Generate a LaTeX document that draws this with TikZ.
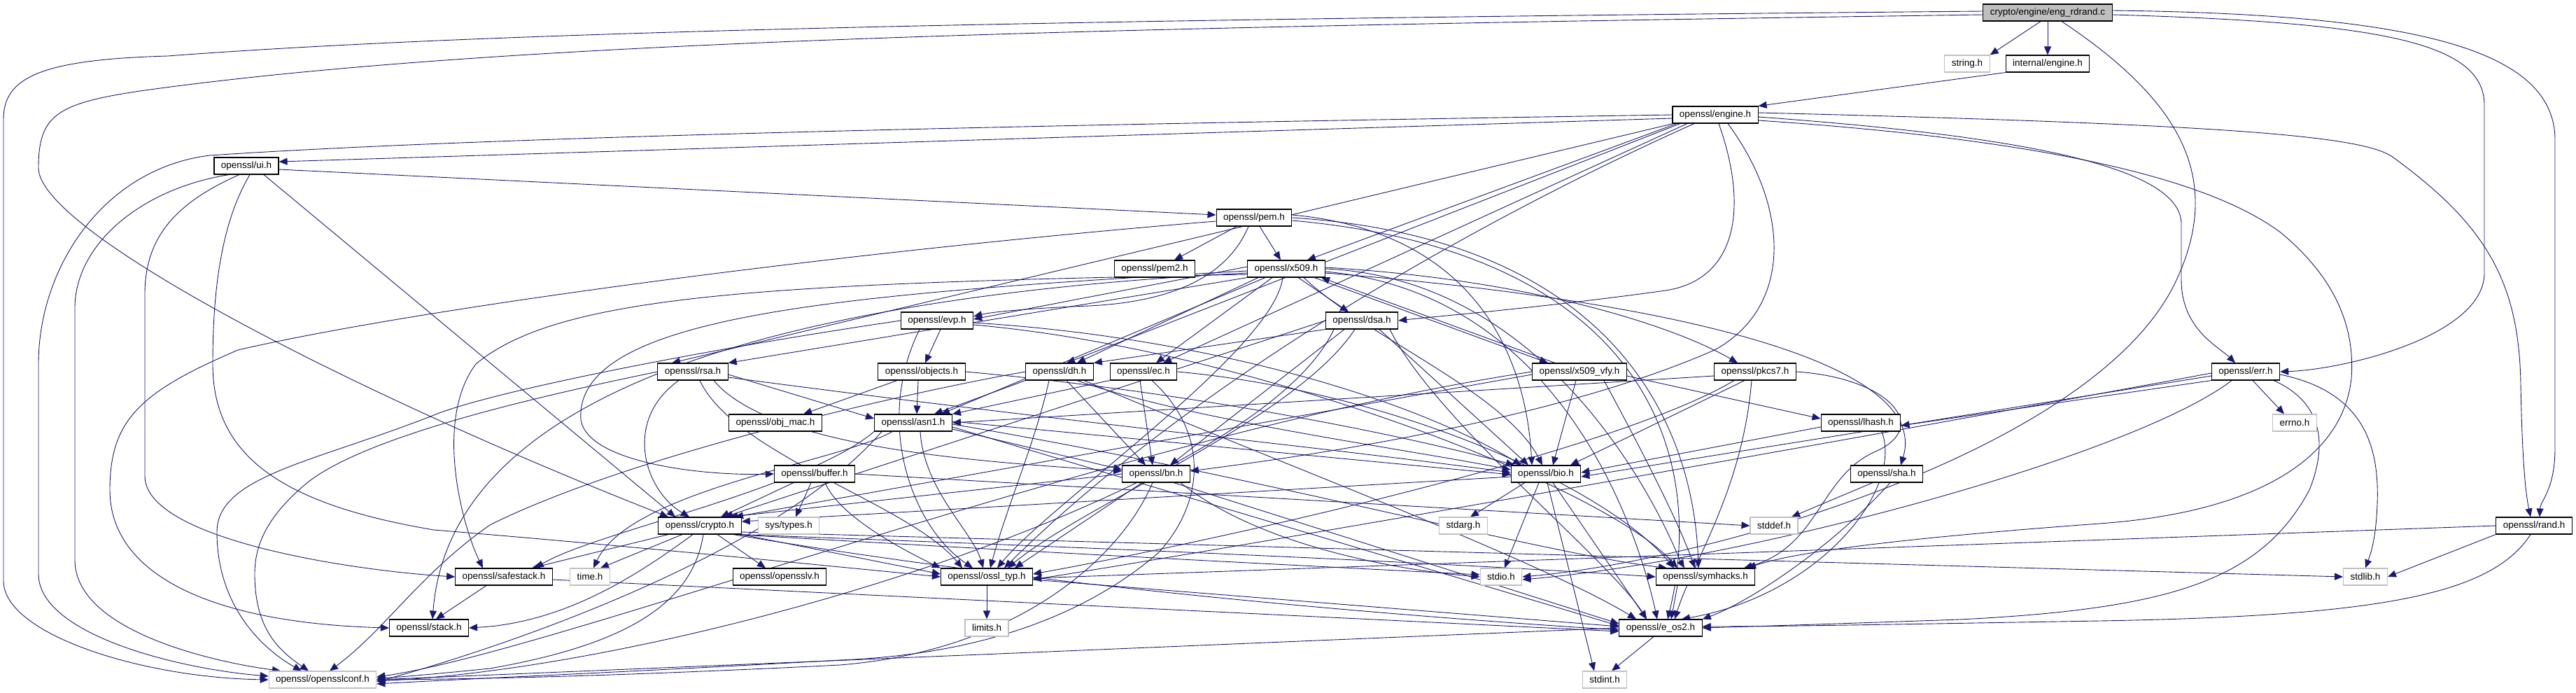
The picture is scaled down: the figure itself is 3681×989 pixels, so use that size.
\documentclass[tikz,border=0pt]{standalone}
\usepackage{fontspec}
\setmainfont{Liberation Sans}
\usetikzlibrary{arrows.meta}
\definecolor{edgec}{HTML}{191970}
\definecolor{extc}{HTML}{BFBFBF}
\pgfdeclarelayer{bg}
\pgfsetlayers{bg,main}
\tikzset{
 box/.style={draw=black, fill=white, line width=1.1pt, minimum height=24pt, inner xsep=10pt, inner ysep=0pt, font=\fontsize{13.5}{16}\selectfont},
 ext/.style={box, draw=extc},
 rootbox/.style={box, fill=extc},
 e/.style={draw=edgec, line width=0.9pt, -{Triangle[length=12pt,width=10pt]}}
}
\begin{document}
\begin{tikzpicture}[x=1pt,y=-1pt]
\useasboundingbox (0,0) rectangle (3681,989);
\node[rootbox] (root) at (2926,18) {crypto/engine/eng\_rdrand.c};
\node[ext] (string) at (2811,91) {string.h};
\node[box] (internal) at (2926,91) {internal/engine.h};
\node[box] (engine) at (2451,164) {openssl/engine.h};
\node[box] (ui) at (352,237) {openssl/ui.h};
\node[box] (pem) at (1792,311) {openssl/pem.h};
\node[box] (pem2) at (1650,384) {openssl/pem2.h};
\node[box] (x509) at (1838,384) {openssl/x509.h};
\node[box] (evp) at (1339,458) {openssl/evp.h};
\node[box] (dsa) at (1946,458) {openssl/dsa.h};
\node[box] (rsa) at (990,531) {openssl/rsa.h};
\node[box] (objects) at (1317,531) {openssl/objects.h};
\node[box] (dh) at (1514,531) {openssl/dh.h};
\node[box] (ec) at (1634,531) {openssl/ec.h};
\node[box] (x509vfy) at (2257,531) {openssl/x509\_vfy.h};
\node[box] (pkcs7) at (2508,531) {openssl/pkcs7.h};
\node[box] (err) at (3209,531) {openssl/err.h};
\node[box] (objmac) at (1108,604) {openssl/obj\_mac.h};
\node[box] (asn1) at (1305,604) {openssl/asn1.h};
\node[box] (lhash) at (2659,604) {openssl/lhash.h};
\node[ext] (errno) at (3279,604) {errno.h};
\node[box] (buffer) at (1164,677) {openssl/buffer.h};
\node[box] (bn) at (1652,677) {openssl/bn.h};
\node[box] (bio) at (2209,677) {openssl/bio.h};
\node[box] (sha) at (2696,677) {openssl/sha.h};
\node[box] (crypto) at (1000,751) {openssl/crypto.h};
\node[ext] (systypes) at (1127,751) {sys/types.h};
\node[ext] (stdarg) at (2091,751) {stdarg.h};
\node[ext] (stddef) at (2535,751) {stddef.h};
\node[box] (rand) at (3621,751) {openssl/rand.h};
\node[box] (safestack) at (720,824) {openssl/safestack.h};
\node[ext] (time) at (843,824) {time.h};
\node[box] (opensslv) at (1114,824) {openssl/opensslv.h};
\node[box] (ossltyp) at (1410,824) {openssl/ossl\_typ.h};
\node[ext] (stdio) at (2145,824) {stdio.h};
\node[box] (symhacks) at (2437,824) {openssl/symhacks.h};
\node[ext] (stdlib) at (3380,824) {stdlib.h};
\node[box] (stack) at (613,897) {openssl/stack.h};
\node[ext] (limits) at (1410,897) {limits.h};
\node[box] (eos2) at (2373,897) {openssl/e\_os2.h};
\node[ext] (opensslconf) at (461,971) {openssl/opensslconf.h};
\node[ext] (stdint) at (2293,971) {stdint.h};

\begin{pgfonlayer}{bg}
% root
\draw[e] ([xshift=-10]root.south) -- (string.north east);
\draw[e] (root) -- (internal);
\draw[e] ([yshift=2]root.west) .. controls (1500,28) and (700,45) .. (240,80) .. controls (60,85) and (5,110) .. (5,170) -- (5,830) .. controls (5,905) and (200,968) .. (opensslconf.west);
\draw[e] ([yshift=-3]root.west) .. controls (1500,40) and (700,60) .. (200,130) .. controls (80,148) and (55,165) .. (55,240) .. controls (55,330) and (500,560) .. ([xshift=-45]crypto.north);
\draw[e] ([yshift=-3]root.east) .. controls (3400,32) and (3550,60) .. (3550,150) -- (3550,390) .. controls (3550,480) and (3350,528) .. (err.east);
\draw[e] ([yshift=3]root.east) .. controls (3450,20) and (3651,70) .. (3651,200) -- (3651,640) .. controls (3651,700) and (3630,715) .. ([xshift=8]rand.north);
\draw[e] ([xshift=20]root.south) .. controls (3110,140) and (3180,250) .. (3110,400) .. controls (3000,640) and (2450,800) .. (stdio.east);
\draw[e] (internal.south west) -- (engine.north east);
% engine
\draw[e] (engine.west) .. controls (1500,178) and (700,195) .. (300,222) .. controls (150,240) and (55,380) .. (55,520) -- (55,820) .. controls (55,905) and (250,955) .. ([yshift=5]opensslconf.west);
\draw[e] ([yshift=-5]engine.west) -- ([yshift=6]ui.east);
\draw[e] ([xshift=-55]engine.south) -- ([xshift=30]x509.north);
\draw[e] ([xshift=-40]engine.south) -- ([xshift=28]ec.north);
\draw[e] ([xshift=5]engine.south) .. controls (2500,300) and (2480,400) .. (2380,415) .. controls (2200,440) and (2050,452) .. (dsa.east);
\draw[e] ([xshift=18]engine.south) .. controls (2560,300) and (2560,440) .. (2450,500) .. controls (2200,610) and (1800,660) .. ([yshift=4]bn.east);
\draw[e] ([xshift=-60]engine.south) -- ([xshift=-30]rsa.north);
\draw[e] ([xshift=-50]engine.south) -- ([xshift=10]dh.north);
\draw[e] ([xshift=-30]engine.south) .. controls (2100,320) and (1700,550) .. ([xshift=25]ossltyp.north);
\draw[e] ([yshift=-8]engine.east) .. controls (2900,198) and (3150,250) .. (3260,333) .. controls (3340,400) and (3365,470) .. (3360,540) .. controls (3350,640) and (3250,730) .. (3000,748) .. controls (2700,770) and (2560,790) .. ([xshift=60]symhacks.north);
\draw[e] ([yshift=3]engine.east) .. controls (3200,178) and (3380,195) .. (3420,225) .. controls (3550,320) and (3600,400) .. (3602,550) .. controls (3604,650) and (3608,700) .. ([xshift=-5]rand.north);
\draw[e] ([yshift=-3]engine.east) .. controls (2900,195) and (3117,240) .. (3117,320) -- (3117,400) .. controls (3117,470) and (3170,495) .. ([xshift=-15]err.north);
% ui
\draw[e] ([yshift=-5]ui.east) -- ([yshift=4]pem.west);
\draw[e] ([xshift=25]ui.south) -- ([xshift=-35]crypto.north);
\draw[e] ([xshift=-25]ui.south) .. controls (200,270) and (107,350) .. (107,440) -- (107,800) .. controls (107,900) and (300,945) .. ([xshift=-60]opensslconf.north);
\draw[e] ([xshift=-10]ui.south) .. controls (250,290) and (207,340) .. (207,420) -- (207,680) .. controls (207,770) and (500,815) .. (safestack.west);
\draw[e] ([xshift=5]ui.south) .. controls (315,320) and (304,420) .. (304,520) .. controls (304,650) and (400,720) .. (620,757) .. controls (900,780) and (1200,810) .. (ossltyp.west);
% pem
\draw[e] ([xshift=-25]pem.south) -- ([xshift=28]pem2.north);
\draw[e] ([xshift=8]pem.south) -- ([xshift=-8]x509.north);
\draw[e] ([xshift=-8]pem.south) .. controls (1760,380) and (1700,430) .. (1556,437) .. controls (1480,440) and (1420,445) .. ([yshift=6]evp.east);
\draw[e] ([yshift=-5]pem.west) .. controls (1200,360) and (600,440) .. (340,500) .. controls (200,560) and (157,600) .. (157,700) .. controls (157,820) and (300,890) .. (stack.west);
\draw[e] ([yshift=4]pem.east) .. controls (2100,330) and (2180,500) .. ([xshift=-20]bio.north);
\draw[e] (pem.east) .. controls (2300,340) and (2420,600) .. ([xshift=-10]symhacks.north);
\draw[e] ([yshift=-4]pem.east) .. controls (2350,360) and (2440,650) .. ([xshift=10]eos2.north);
% x509
\draw[e] ([xshift=-5]x509.south) .. controls (1820,500) and (1500,720) .. ([xshift=15]ossltyp.north);
\draw[e] (x509.east) .. controls (2250,400) and (2400,800) .. ([xshift=-30]symhacks.north);
\draw[e] ([yshift=-4]x509.east) .. controls (2250,420) and (2350,800) .. ([xshift=-5]eos2.north);
\draw[e] ([yshift=-3]x509.west) .. controls (1200,420) and (820,450) .. (830,600) .. controls (840,660) and (1000,680) .. (buffer.west);
\draw[e] ([yshift=3]x509.west) -- ([yshift=2]evp.east);
\draw[e] ([xshift=25]x509.south) .. controls (1950,480) and (2150,560) .. ([xshift=-5]bio.north);
\draw[e] ([yshift=-6]x509.west) .. controls (1000,430) and (640,600) .. ([xshift=5]stack.north);
\draw[e] ([xshift=-30]x509.south) -- ([xshift=40]asn1.north);
\draw[e] ([yshift=-8]x509.west) .. controls (1100,405) and (800,420) .. (680,520) .. controls (620,600) and (660,750) .. ([xshift=-30]safestack.north);
\draw[e] ([xshift=-20]x509.south) -- ([xshift=18]ec.north);
\draw[e] (x509.south west) -- (rsa.north east);
\draw[e] ([xshift=17]x509.south) -- ([xshift=-19]dsa.north);
\draw[e] ([xshift=-40]x509.south) -- ([xshift=25]dh.north);
\draw[e] ([yshift=-6]x509.east) .. controls (2400,430) and (2760,520) .. ([xshift=20]sha.north);
\draw[e] ([xshift=40]x509.south) -- ([xshift=-45]x509vfy.north);
\draw[e] ([xshift=-35]x509vfy.north) -- ([xshift=50]x509.south);
\draw[e] ([yshift=2]x509.east) .. controls (2200,400) and (2400,470) .. ([xshift=-25]pkcs7.north);
% x509_vfy
\draw[e] (x509vfy.west) .. controls (1600,620) and (800,930) .. ([yshift=4]opensslconf.east);
\draw[e] ([yshift=-6]x509vfy.east) -- ([yshift=6]lhash.west);
\draw[e] ([xshift=-5]x509vfy.south) -- ([xshift=10]bio.north);
\draw[e] ([yshift=-4]x509vfy.west) -- ([xshift=50]crypto.north);
\draw[e] ([xshift=35]x509vfy.south) .. controls (2350,650) and (2400,750) .. ([xshift=-15]symhacks.north);
% pkcs7
\draw[e] ([yshift=-6]pkcs7.west) -- (asn1.east);
\draw[e] ([xshift=-15]pkcs7.south) -- ([xshift=35]bio.north);
\draw[e] ([xshift=-5]pkcs7.south) .. controls (2490,700) and (2420,800) .. ([xshift=20]eos2.north);
\draw[e] (pkcs7.east) .. controls (2700,540) and (2760,610) .. (2680,645) .. controls (2600,680) and (2600,780) .. ([xshift=55]symhacks.north);
\draw[e] ([xshift=-30]pkcs7.south) .. controls (2300,650) and (1700,780) .. ([yshift=4]ossltyp.east);
% evp
\draw[e] (evp.west) .. controls (1000,500) and (700,560) .. (620,593) .. controls (450,660) and (310,680) .. (310,760) .. controls (310,870) and (380,930) .. ([xshift=-30]opensslconf.north);
\draw[e] ([xshift=5]evp.south) -- ([xshift=5]objects.north);
\draw[e] ([xshift=-25]evp.south) .. controls (1250,600) and (1300,750) .. ([xshift=-20]ossltyp.north);
\draw[e] ([yshift=-3]evp.east) .. controls (1700,480) and (2000,560) .. ([xshift=-35]bio.north);
\draw[e] ([yshift=-6]evp.east) .. controls (1800,500) and (2300,700) .. ([xshift=-40]symhacks.north);
% dsa
\draw[e] (dsa.south west) -- (dh.north east);
\draw[e] ([xshift=-25]dsa.south) -- ([xshift=20]bn.north);
\draw[e] ([xshift=25]dsa.south) -- ([xshift=-25]bio.north);
\draw[e] (dsa.west) -- ([xshift=35]crypto.north);
\draw[e] ([xshift=-10]dsa.south) .. controls (1850,600) and (1550,720) .. ([xshift=30]ossltyp.north);
\draw[e] ([xshift=40]dsa.south) .. controls (2050,600) and (2300,800) .. ([xshift=-20]eos2.north);
\draw[e] ([xshift=-40]dsa.south) .. controls (1800,700) and (1000,950) .. ([yshift=-2]opensslconf.east);
% rsa
\draw[e] (rsa.west) .. controls (800,560) and (520,620) .. (435,693) .. controls (380,740) and (364,780) .. (364,820) .. controls (364,900) and (400,930) .. ([xshift=-20]opensslconf.north);
\draw[e] ([yshift=-4]rsa.east) -- ([yshift=6]asn1.west);
\draw[e] ([yshift=-8]rsa.east) .. controls (1500,600) and (1900,640) .. ([yshift=2]bio.west);
\draw[e] ([xshift=-20]rsa.south) .. controls (890,600) and (920,700) .. ([xshift=-15]crypto.north);
\draw[e] ([xshift=10]rsa.south) .. controls (1050,650) and (1300,720) .. ([xshift=-35]ossltyp.north);
\draw[e] ([xshift=30]rsa.south) .. controls (1100,640) and (1400,660) .. ([yshift=4]bn.west);
% objects
\draw[e] ([xshift=-35]objects.south) -- ([xshift=40]objmac.north);
\draw[e] ([xshift=-5]objects.south) -- ([xshift=5]asn1.north);
\draw[e] (objects.east) .. controls (1700,560) and (2000,620) .. ([xshift=-45]bio.north);
% dh
\draw[e] (dh.south west) -- ([xshift=30]asn1.north);
\draw[e] ([xshift=-15]dh.south) .. controls (1480,630) and (1440,720) .. ([xshift=5]ossltyp.north);
\draw[e] ([xshift=10]dh.south) -- ([xshift=-15]bn.north);
\draw[e] ([xshift=25]dh.south) .. controls (1700,600) and (2000,640) .. ([yshift=6]bio.west);
\draw[e] ([xshift=35]dh.south) .. controls (1800,650) and (2200,800) .. ([xshift=-35]eos2.north);
\draw[e] (dh.west) .. controls (1300,560) and (900,650) .. (700,750) .. controls (600,820) and (550,900) .. ([xshift=10]opensslconf.north);
% ec
\draw[e] (ec.south west) -- (asn1.north east);
\draw[e] (ec.east) .. controls (2000,560) and (2300,700) .. ([xshift=-45]symhacks.north);
\draw[e] ([xshift=-5]ec.south) -- ([xshift=-5]bn.north);
\draw[e] ([xshift=12]ec.south) .. controls (1730,620) and (1720,720) .. (1655,790) .. controls (1550,880) and (1400,935) .. (1200,943) .. controls (900,960) and (700,968) .. ([yshift=-6]opensslconf.east);
% err
\draw[e] ([xshift=10]err.south) -- ([xshift=-15]errno.north);
\draw[e] ([xshift=40]err.south) .. controls (3330,580) and (3320,650) .. (3300,700) .. controls (3230,830) and (3100,870) .. (2800,885) .. controls (2600,892) and (2500,895) .. (eos2.east);
\draw[e] ([yshift=-4]err.east) .. controls (3380,560) and (3400,640) .. (3397,720) .. controls (3395,770) and (3388,790) .. (stdlib.north);
\draw[e] ([yshift=-2]err.west) .. controls (2800,600) and (1900,760) .. ([yshift=-4]ossltyp.east);
\draw[e] ([yshift=-6]err.west) -- ([yshift=-4]bio.east);
\draw[e] ([xshift=-20]err.south) .. controls (3050,650) and (2500,800) .. ([yshift=-4]stdio.east);
\draw[e] (err.south west) -- ([yshift=-4]lhash.east);
% asn1
\draw[e] ([xshift=-30]asn1.south) .. controls (1200,660) and (900,700) .. ([xshift=5]time.north);
\draw[e] ([yshift=-6]asn1.east) -- ([yshift=3]eos2.west);
\draw[e] ([xshift=-45]asn1.south) .. controls (1100,800) and (700,930) .. ([yshift=-3]opensslconf.east);
\draw[e] ([yshift=2]asn1.east) -- ([yshift=-1]bio.west);
\draw[e] (asn1.south west) .. controls (1150,700) and (850,760) .. ([xshift=45]safestack.north);
\draw[e] ([yshift=-2]asn1.east) .. controls (1800,680) and (2200,790) .. ([xshift=-55]symhacks.north);
\draw[e] ([xshift=10]asn1.south) .. controls (1320,700) and (1390,760) .. ([xshift=-5]ossltyp.north);
\draw[e] ([yshift=-9]asn1.east) -- ([yshift=6]bn.west);
% lhash
\draw[e] ([xshift=30]lhash.south) .. controls (2720,700) and (2600,850) .. ([xshift=30]eos2.north);
\draw[e] ([yshift=-6]lhash.west) -- ([yshift=2]bio.east);
% buffer
\draw[e] ([xshift=-30]buffer.south) -- ([xshift=30]crypto.north);
\draw[e] ([xshift=-5]buffer.south) -- ([xshift=10]systypes.north);
\draw[e] ([xshift=15]buffer.south) .. controls (1200,740) and (1300,790) .. (ossltyp.north west);
\draw[e] (buffer.east) -- (stddef.west);
% bn
\draw[e] (bn.west) -- ([xshift=42]crypto.north);
\draw[e] ([xshift=-20]bn.south) -- ([xshift=40]ossltyp.north);
\draw[e] ([xshift=25]bn.south) -- ([yshift=6]eos2.west);
\draw[e] ([xshift=35]bn.south) .. controls (1800,780) and (2000,815) .. (stdio.west);
\draw[e] ([xshift=-5]bn.south) .. controls (1600,800) and (1450,930) .. (1200,950) .. controls (900,965) and (700,970) .. (opensslconf.east);
% bio
\draw[e] ([yshift=-4]bio.west) -- ([yshift=6]crypto.east);
\draw[e] ([xshift=-30]bio.south) -- ([xshift=10]stdarg.north);
\draw[e] ([xshift=-10]bio.south) -- ([xshift=5]stdio.north);
\draw[e] ([xshift=10]bio.south) -- ([xshift=-20]eos2.north);
\draw[e] ([xshift=2]bio.south) -- ([xshift=-15]stdint.north);
% sha
\draw[e] ([xshift=-20]sha.south) -- ([xshift=25]stddef.north);
\draw[e] ([xshift=5]sha.south) .. controls (2620,780) and (2500,860) .. (eos2.north east);
% crypto
\draw[e] ([xshift=-45]crypto.south) -- ([xshift=40]safestack.north);
\draw[e] ([xshift=-25]crypto.south) -- ([xshift=15]time.north);
\draw[e] ([xshift=-10]crypto.south) .. controls (900,830) and (800,890) .. (stack.east);
\draw[e] ([xshift=5]crypto.south) .. controls (990,860) and (900,920) .. (700,955) .. controls (600,965) and (560,968) .. ([yshift=2]opensslconf.east);
\draw[e] ([xshift=25]crypto.south) -- ([xshift=-20]opensslv.north);
\draw[e] (crypto.south east) -- ([yshift=4]ossltyp.west);
\draw[e] ([xshift=-8]crypto.south east) .. controls (1500,790) and (1900,810) .. ([yshift=3]stdio.west);
\draw[e] ([xshift=-4]crypto.south east) .. controls (1500,780) and (2000,800) .. (symhacks.west);
\draw[e] ([xshift=-12]crypto.south east) .. controls (1500,840) and (2000,880) .. ([yshift=-3]eos2.west);
\draw[e] ([yshift=-9]crypto.east) -- (stdlib.west);
% safestack, ossl_typ, symhacks, e_os2
\draw[e] ([xshift=-25]safestack.south) -- ([xshift=10]stack.north);
\draw[e] ([yshift=-4]safestack.east) -- ([yshift=-5]eos2.west);
\draw[e] (ossltyp) -- (limits);
\draw[e] ([yshift=-4]ossltyp.east) -- ([yshift=2]eos2.west);
\draw[e] ([xshift=-40]symhacks.south) -- ([xshift=15]eos2.north);
\draw[e] (eos2.west) -- (opensslconf.east);
\draw[e] ([xshift=-10]eos2.south) -- ([xshift=10]stdint.north);
% rand
\draw[e] (rand.south west) -- (stdlib.east);
\draw[e] (rand.west) -- ([yshift=-2]ossltyp.east);
\draw[e] ([xshift=-5]rand.south) .. controls (3560,850) and (3400,880) .. (3000,887) .. controls (2700,892) and (2550,895) .. ([yshift=2]eos2.east);
\end{pgfonlayer}
\end{tikzpicture}
\end{document}
